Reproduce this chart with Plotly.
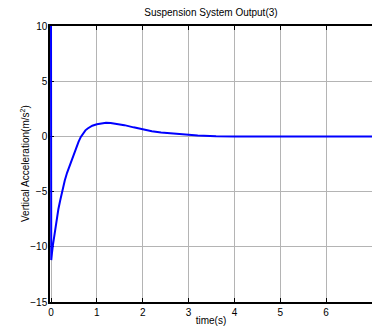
import plotly.graph_objects as go

# time (s) and vertical acceleration (m/s^2)
time_s = [0, 0.005, 0.02, 0.04, 0.08, 0.12, 0.16, 0.2, 0.25, 0.3, 0.35, 0.4, 0.45,
          0.5, 0.55, 0.6, 0.65, 0.7, 0.75, 0.8, 0.85, 0.9, 1.0, 1.1, 1.2, 1.3, 1.4,
          1.6, 1.8, 2.0, 2.2, 2.4, 2.6, 2.8, 3.0, 3.2, 3.4, 3.6, 4.0, 5.0, 6.0, 7.0, 8.0]
accel = [10, -11.2, -10.6, -9.9, -8.7, -7.5, -6.6, -5.8, -4.85, -4.0, -3.3, -2.7, -2.12,
         -1.55, -1.0, -0.5, -0.05, 0.3, 0.55, 0.72, 0.86, 0.97, 1.1, 1.19, 1.23, 1.22, 1.17,
         1.02, 0.82, 0.62, 0.47, 0.36, 0.27, 0.2, 0.15, 0.09, 0.04, 0.01, 0, 0, 0, 0, 0]

x_ticks = [0, 1, 2, 3, 4, 5, 6, 7]
y_ticks = [-15, -10, -5, 0, 5, 10]

font = "Liberation Sans, Arial, sans-serif"

fig = go.Figure()
fig.add_trace(go.Scatter(x=time_s, y=accel, mode="lines",
                         line=dict(color="#0000ff", width=2), showlegend=False))

fig.update_layout(
    width=372, height=331,
    margin=dict(l=50, r=0, t=26, b=29),
    paper_bgcolor="white", plot_bgcolor="white",
    font=dict(family=font, size=10, color="black"),
    title=dict(text="Suspension System Output(3)", x=0.567, xanchor="center",
               y=0.962, yanchor="middle", font=dict(size=10, family=font)),
)
fig.add_annotation(text="Vertical Acceleration(m/s<sup>2</sup>)", textangle=-90,
                   xref="paper", yref="paper", x=0, y=0.5, xshift=-25,
                   xanchor="center", yanchor="middle", showarrow=False,
                   font=dict(size=10, family=font))
fig.update_xaxes(
    range=[-0.022, 7], tickvals=x_ticks, ticks="inside", ticklen=4, tickcolor="black",
    showline=True, linecolor="black", linewidth=1.5, mirror="ticks",
    showgrid=True, gridcolor="#b4b4b4", gridwidth=1, zeroline=False,
    automargin=False, layer="below traces",
    title=dict(text="time(s)", standoff=0, font=dict(size=10)),
)
fig.update_yaxes(
    range=[-15, 10], tickvals=y_ticks, ticks="inside", ticklen=4, tickcolor="black",
    showline=True, linecolor="black", linewidth=1.5,
    showgrid=True, gridcolor="#b4b4b4", gridwidth=1, zeroline=False,
    automargin=False, layer="below traces", ticklabelstandoff=-1,
)
fig.write_html("out.html", config={"displayModeBar": False},
               post_script="document.body.style.margin='0';document.body.style.overflow='hidden';")
